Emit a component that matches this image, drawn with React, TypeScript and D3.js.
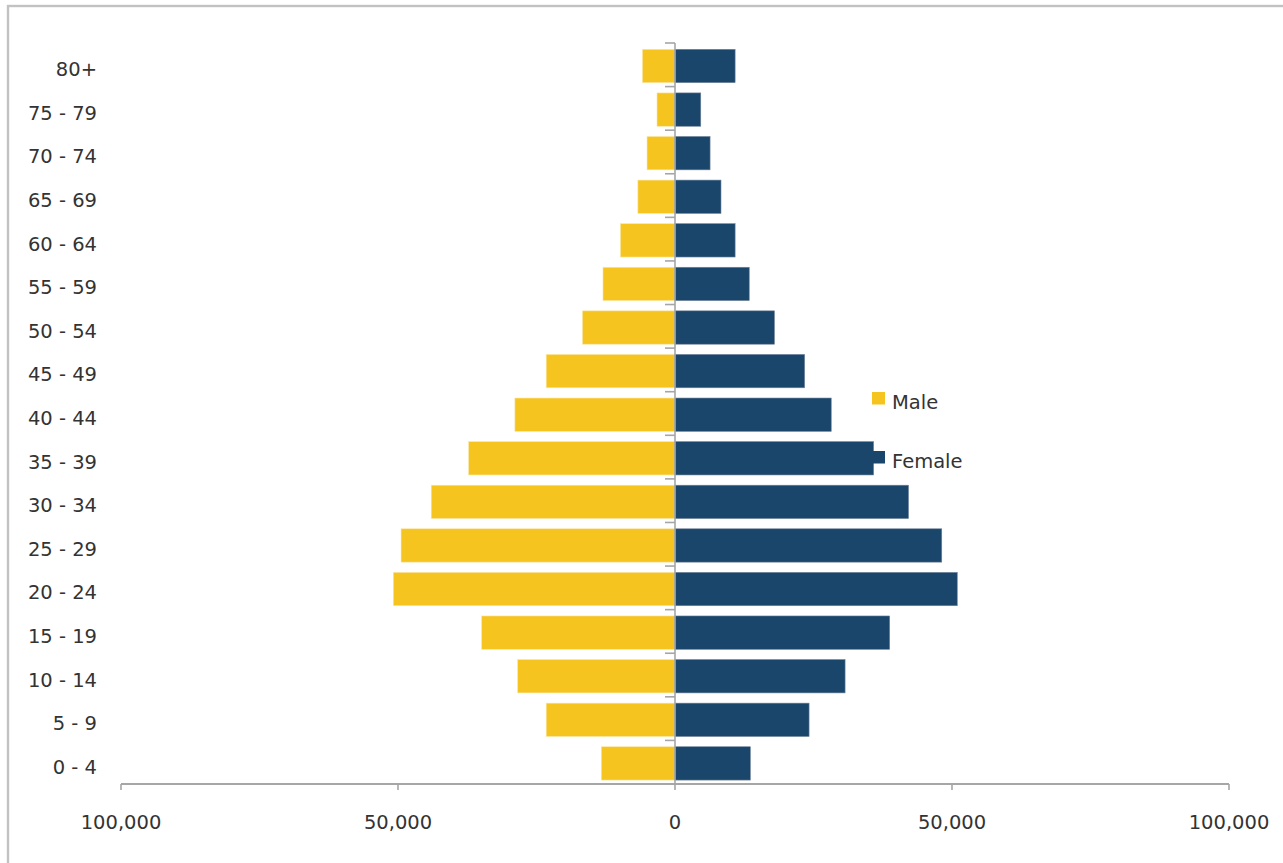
import React from "react";
import * as d3 from "d3";

// Age groups, listed from youngest to oldest
const ageGroups = [
  "0 - 4", "5 - 9", "10 - 14", "15 - 19", "20 - 24", "25 - 29", "30 - 34",
  "35 - 39", "40 - 44", "45 - 49", "50 - 54", "55 - 59", "60 - 64",
  "65 - 69", "70 - 74", "75 - 79", "80+",
];

const maleValues = [
  13300, 23250, 28400, 34900, 50850, 49450, 44000, 37250, 28900, 23250,
  16700, 13000, 9850, 6700, 5050, 3250, 5880,
];

const femaleValues = [
  13600, 24200, 30700, 38750, 50950, 48150, 42150, 35850, 28200, 23400,
  17950, 13400, 10850, 8300, 6330, 4650, 10850,
];

const xTickValues = [-100000, -50000, 0, 50000, 100000];
const seriesNames = ["Male", "Female"];
const seriesColors = ["#F6C41F", "#1B466B"];

const W = 1283;
const H = 863;
const FONT = "'DejaVu Sans', sans-serif";
const TEXT = "#333333";
const AXIS = "#a6a6a6";

export default function App() {
  const x = d3.scaleLinear().domain([-100000, 100000]).range([121, 1229]);
  const y = d3
    .scaleBand<string>()
    .domain([...ageGroups].reverse())
    .range([43, 784])
    .paddingInner(0.235)
    .paddingOuter(0.1175);

  const fmt = d3.format(",");
  const step = y.step();
  const boundaries = d3.range(ageGroups.length + 1).map((i) => 43 + i * step);
  const x0 = x(0);

  const rows = ageGroups.map((g, i) => ({
    group: g,
    male: maleValues[i],
    female: femaleValues[i],
  }));

  return (
    <div style={{ position: "absolute", left: 0, top: 0 }}>
      <svg width={W} height={H} style={{ display: "block", background: "#fff" }}>
        {/* outer frame */}
        <rect x={8} y={6} width={W + 20} height={H + 20} fill="none" stroke="#c2c2c2" strokeWidth={2.4} />

        {/* bars */}
        <g>
          {rows.map((r) => {
            const yy = (y(r.group) as number) + 1.2;
            const h = y.bandwidth();
            return (
              <g key={r.group}>
                <rect
                  x={x(-r.male)}
                  y={yy}
                  width={x0 - x(-r.male)}
                  height={h}
                  fill={seriesColors[0]}
                  stroke="#fbe6a6"
                  strokeWidth={0.6}
                />
                <rect
                  x={x0}
                  y={yy}
                  width={x(r.female) - x0}
                  height={h}
                  fill={seriesColors[1]}
                  stroke="#6f8399"
                  strokeWidth={0.6}
                />
              </g>
            );
          })}
        </g>

        {/* vertical category axis */}
        <line x1={x0} x2={x0} y1={43} y2={784} stroke={AXIS} strokeWidth={1.6} />
        {boundaries.map((b, i) => (
          <line key={i} x1={x0 - 10} x2={x0} y1={b} y2={b} stroke={AXIS} strokeWidth={1.6} />
        ))}

        {/* category labels */}
        {ageGroups.map((g) => (
          <text
            key={g}
            x={97}
            y={(y(g) as number) + y.bandwidth() / 2 + 5}
            textAnchor="end"
            dominantBaseline="central"
            fontFamily={FONT}
            fontSize={19.5}
            fill={TEXT}
          >
            {g}
          </text>
        ))}

        {/* value axis */}
        <line x1={x(-100000)} x2={x(100000)} y1={784} y2={784} stroke={AXIS} strokeWidth={1.8} />
        {xTickValues.map((t) => (
          <g key={t}>
            <line x1={x(t)} x2={x(t)} y1={784} y2={790} stroke={AXIS} strokeWidth={1.6} />
            <text
              x={x(t)}
              y={822}
              textAnchor="middle"
              dominantBaseline="central"
              fontFamily={FONT}
              fontSize={19.5}
              fill={TEXT}
            >
              {fmt(Math.abs(t))}
            </text>
          </g>
        ))}

        {/* legend */}
        {seriesNames.map((name, i) => (
          <g key={name} transform={`translate(872, ${392 + i * 59})`}>
            <rect x={0} y={0} width={13} height={12.5} fill={seriesColors[i]} />
            <text x={20} y={16.5} fontFamily={FONT} fontSize={19.5} fill={TEXT}>
              {name}
            </text>
          </g>
        ))}
      </svg>
    </div>
  );
}
